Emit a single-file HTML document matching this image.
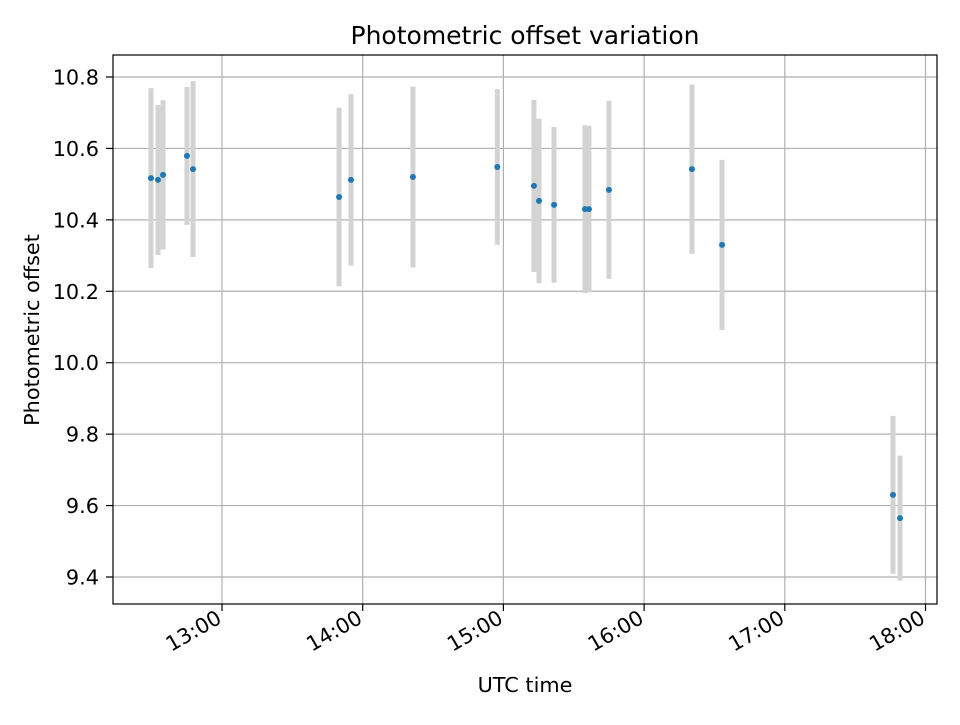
<!DOCTYPE html>
<html><head><meta charset="utf-8"><style>
body{margin:0;background:#fff;}
svg text{font-family:"DejaVu Sans","Liberation Sans",sans-serif;fill:#000;}
</style></head><body>
<svg id="chart" width="960" height="720" xmlns="http://www.w3.org/2000/svg">
<rect width="960" height="720" fill="#fff"/>
<text x="525" y="44" font-size="25px" text-anchor="middle">Photometric offset variation</text>
<g id="grid"></g>
<g id="bars"></g>
<g id="points"></g>
<rect x="113" y="55" width="824" height="549" fill="none" stroke="#000" stroke-width="1.2"/>
<g id="ticks"></g>
<text x="525" y="692" font-size="20.8px" text-anchor="middle">UTC time</text>
<text transform="translate(39,330) rotate(-90)" font-size="20.8px" text-anchor="middle">Photometric offset</text>
</svg>
<script>
const times=[12.495,12.545,12.581,12.751,12.794,13.832,13.917,14.357,14.957,15.217,15.253,15.36,15.58,15.608,15.75,16.34,16.554,17.769,17.819];
const values=[10.517,10.512,10.526,10.579,10.542,10.464,10.512,10.52,10.548,10.495,10.453,10.442,10.43,10.43,10.484,10.542,10.33,9.63,9.565];
const errors=[0.252,0.21,0.209,0.193,0.246,0.25,0.24,0.253,0.218,0.241,0.23,0.218,0.235,0.233,0.249,0.237,0.238,0.221,0.175];
const yTicks=[9.4,9.6,9.8,10.0,10.2,10.4,10.6,10.8];
const xTicks=[13,14,15,16,17,18];
const xTickLabels=["13:00","14:00","15:00","16:00","17:00","18:00"];
const NS="http://www.w3.org/2000/svg";
const X=h=>222+(h-13)*140.7;
const Y=v=>77+(10.8-v)*357.14;
function mk(tag,attrs,parent){const e=document.createElementNS(NS,tag);for(const k in attrs)e.setAttribute(k,attrs[k]);document.getElementById(parent).appendChild(e);return e;}
yTicks.forEach(v=>{const y=Y(v);
 let g=mk('line',{x1:113,x2:937,y1:y,y2:y,stroke:'#b0b0b0','stroke-width':1.2},'grid');
 
 mk('line',{x1:106,x2:113,y1:y,y2:y,stroke:'#000','stroke-width':1.2},'ticks');
 let t=mk('text',{x:99,y:y+7.5,'font-size':'20.8px','text-anchor':'end'},'ticks');t.textContent=v.toFixed(1);
 
});
xTicks.forEach((h,i)=>{const x=X(h);
 let g=mk('line',{x1:x,x2:x,y1:55,y2:604,stroke:'#b0b0b0','stroke-width':1.2},'grid');
 
 mk('line',{x1:x,x2:x,y1:604,y2:611,stroke:'#000','stroke-width':1.2},'ticks');
 let t=mk('text',{transform:`translate(${x+1},${622}) rotate(-30)`,'font-size':'20.8px','text-anchor':'end'},'ticks');t.textContent=xTickLabels[i];
 
});
times.forEach((h,i)=>{const x=X(h);
 let b=mk('line',{x1:x,x2:x,y1:Y(values[i]+errors[i]),y2:Y(values[i]-errors[i]),stroke:'#d3d3d3','stroke-width':5},'bars');
 
 let c=mk('circle',{cx:x,cy:Y(values[i]),r:3,fill:'#1f77b4'},'points');
 
});
</script>
</body></html>
